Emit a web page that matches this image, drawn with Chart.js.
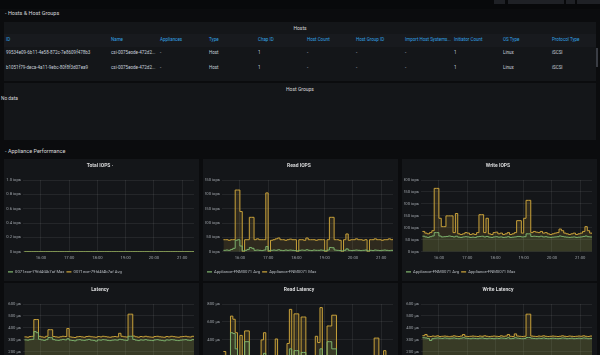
<!DOCTYPE html>
<html><head><meta charset="utf-8">
<script src="https://cdn.jsdelivr.net/npm/chart.js@4/dist/chart.umd.min.js"></script>
<style>
html,body{margin:0;padding:0;width:600px;height:355px;overflow:hidden;background:#0b0c0e;font-family:Roboto,"Open Sans",sans-serif;}
.abs{position:absolute;}
.panel{position:absolute;background:#141619;}
.rowtitle{position:absolute;left:5px;font-size:5.5px;color:#d8d9da;line-height:8px;}
.ptitle{position:absolute;left:0;right:0;text-align:center;font-size:5px;color:#d8d9da;line-height:8px;}
.th{position:absolute;font-size:4.5px;color:#33a2e5;line-height:6px;white-space:nowrap;}
.td{position:absolute;font-size:4.5px;color:#c7d0d9;line-height:6px;white-space:nowrap;}
.btn{position:absolute;top:0;height:4px;background:#1f2126;}
</style></head>
<body>
<div class="abs" style="left:0;top:0;width:600px;height:9px;background:#08090b"></div>
<div class="btn" style="left:494px;width:11px"></div>
<div class="btn" style="left:508px;width:56px"></div>
<div class="btn" style="left:566px;width:9px"></div>
<div class="btn" style="left:577px;width:23px"></div>

<div class="rowtitle" style="top:9px">- Hosts &amp; Host Groups</div>

<div class="panel" id="hostsPanel" style="left:4px;top:22px;width:592px;height:59px">
  <div class="ptitle" style="top:2px">Hosts</div>
  <div class="abs" style="left:0;top:12px;width:592px;height:13px;background:#181a1e"></div>
  <div class="abs" style="left:592px;top:26px;width:2px;height:19px;background:#3a3d44"></div>
</div>
<div class="panel" style="left:4px;top:83px;width:592px;height:57px">
  <div class="ptitle" style="top:2px">Host Groups</div>
</div>
<div class="td" style="left:1px;top:96px;font-size:4.8px;color:#d8d9da">No data</div>

<div class="rowtitle" style="top:147px">- Appliance Performance</div>

<div class="panel" style="left:4px;top:159px;width:195px;height:122px"><canvas id="c1" width="195" height="122"></canvas></div>
<div class="panel" style="left:203px;top:159px;width:195px;height:122px"><canvas id="c2" width="195" height="122"></canvas></div>
<div class="panel" style="left:402px;top:159px;width:195px;height:122px"><canvas id="c3" width="195" height="122"></canvas></div>
<div class="panel" style="left:4px;top:283px;width:195px;height:122px"><canvas id="c4" width="195" height="122"></canvas></div>
<div class="panel" style="left:203px;top:283px;width:195px;height:122px"><canvas id="c5" width="195" height="122"></canvas></div>
<div class="panel" style="left:402px;top:283px;width:195px;height:122px"><canvas id="c6" width="195" height="122"></canvas></div>

<script>
// ---------- Table data ----------
const hostColumns = ["ID","Name","Appliances","Type","Chap ID","Host Count","Host Group ID","Import Host Systems...","Initiator Count","OS Type","Protocol Type"];
const hostRow1 = ["99534e09-6b11-4e58-872c-7e8609f478b3","csi-0075eode-472d2...","-","Host","1","-","-","-","1","Linux","iSCSI"];
const hostRow2 = ["b1051f79-deca-4a11-9ebc-80f8f3d07ea9","csi-0075eode-472d2...","-","Host","1","-","-","-","1","Linux","iSCSI"];

// ---------- Time axis (minutes from midnight) ----------
const timeMinutes = [925,930,935,940,945,950,955,960,965,970,975,980,985,990,995,1000,1005,1010,1015,1020,1025,1030,1035,1040,1045,1050,1055,1060,1065,1070,1075,1080,1085,1090,1095,1100,1105,1110,1115,1120,1125,1130,1135,1140,1145,1150,1155,1160,1165,1170,1175,1180,1185,1190,1195,1200,1205,1210,1215,1220,1225,1230,1235,1240,1245,1250,1255,1260,1265,1270,1275,1280,1285];
const hourTickMinutes = [960,1020,1080,1140,1200,1260];
const hourTickLabels = ["16:00","17:00","18:00","19:00","20:00","21:00"];

// ---------- Series ----------
const totalIopsMax = [0,0,0,0,0,0,0,0,0,0,0,0,0,0,0,0,0,0,0,0,0,0,0,0,0,0,0,0,0,0,0,0,0,0,0,0,0,0,0,0,0,0,0,0,0,0,0,0,0,0,0,0,0,0,0,0,0,0,0,0,0,0,0,0,0,0,0,0,0,0,0,0,0];
const totalIopsAvg = [0,0,0,0,0,0,0,0,0,0,0,0,0,0,0,0,0,0,0,0,0,0,0,0,0,0,0,0,0,0,0,0,0,0,0,0,0,0,0,0,0,0,0,0,0,0,0,0,0,0,0,0,0,0,0,0,0,0,0,0,0,0,0,0,0,0,0,0,0,0,0,0,0];

const readIopsMax = [42,42,40,42,42,215,215,140,0,42,42,120,120,42,45,42,42,42,205,0,40,42,45,48,42,42,40,42,44,42,42,0,42,42,40,48,42,42,42,40,42,42,42,0,42,120,120,42,42,40,0,42,62,40,42,42,45,42,42,40,42,0,42,42,45,42,42,40,42,42,45,42,45];
const readIopsAvg = [5,6,5,8,12,40,42,20,3,5,8,15,12,5,6,5,4,6,18,4,5,6,5,7,5,4,6,5,6,5,4,3,5,6,5,7,5,4,6,5,5,6,5,3,6,15,14,6,5,4,3,5,10,5,4,5,6,5,4,5,6,3,5,4,6,5,4,5,6,5,4,5,6];

const writeIopsMax = [85,78,75,80,88,265,265,140,105,105,150,150,150,80,160,75,72,75,80,78,72,75,72,80,155,155,80,140,75,72,80,82,75,78,72,75,80,72,75,80,130,130,78,140,215,215,80,85,82,80,85,78,80,75,72,75,78,80,95,88,78,75,72,75,78,72,75,78,85,105,88,78,75];
const writeIopsAvg = [65,62,60,63,66,80,80,66,62,63,64,66,64,62,65,61,60,62,63,62,60,61,60,63,64,65,62,64,61,60,62,63,61,62,60,61,63,60,61,62,64,64,62,63,75,75,64,65,64,63,65,62,63,61,60,61,62,63,66,64,62,61,60,61,62,60,61,62,64,66,63,62,61];

const latencyMax = [325,322,328,330,470,470,330,325,322,330,385,385,328,325,322,326,330,328,395,325,322,320,326,328,325,322,328,330,326,324,322,328,325,330,327,324,322,326,328,325,355,330,326,324,515,515,332,326,322,328,325,330,326,324,322,328,330,326,324,322,328,325,330,327,324,322,326,328,330,326,324,330,328];
const latencyAvg = [300,298,302,305,370,360,305,300,296,302,320,318,302,298,296,300,304,300,310,298,295,292,300,302,298,296,300,304,298,296,290,300,298,302,300,296,294,298,300,298,305,302,298,296,330,330,304,298,294,300,298,302,298,296,294,300,302,298,296,292,300,298,302,300,296,294,298,300,302,298,296,302,300];

const readLatencyMax = [270,100,120,665,630,480,120,450,150,500,500,100,80,100,60,120,400,480,100,60,100,80,410,100,150,120,100,360,740,150,690,690,120,655,655,100,80,60,120,440,370,760,100,120,555,555,675,675,100,80,60,100,120,80,60,100,80,60,100,120,80,60,100,120,420,420,100,80,280,100,60,80,100];
const readLatencyAvg = [120,60,80,480,470,300,80,200,90,380,380,70,50,60,40,80,150,250,60,40,60,50,200,60,80,70,60,180,300,90,280,280,70,260,260,60,50,40,70,220,200,300,60,70,380,380,300,300,60,50,40,60,80,50,40,60,50,40,60,80,50,40,60,80,200,200,60,50,150,60,40,50,60];

const writeLatencyMax = [335,345,330,328,332,330,334,328,330,332,330,326,330,334,330,328,332,345,330,328,330,332,330,328,332,330,334,330,328,330,332,330,328,334,330,332,345,330,328,350,332,330,328,330,515,515,332,330,328,332,330,334,330,328,330,332,330,328,330,334,330,328,332,330,328,330,332,330,334,330,328,332,330];
const writeLatencyAvg = [318,316,312,295,310,314,316,314,312,316,314,310,314,316,312,310,314,318,314,312,310,314,312,310,314,316,312,310,314,312,310,314,312,316,314,312,318,310,312,318,314,312,310,312,320,320,314,312,310,314,312,316,312,310,312,314,312,310,312,316,314,310,312,314,310,312,314,312,316,314,310,312,314];

// ---------- Build tables ----------
const hostColX = [6,111,160,209,258,307,356,405,454,503,552];
function addText(cls, txt, x, y){
  const d=document.createElement('div'); d.className=cls; d.textContent=txt;
  d.style.left=x+'px'; d.style.top=y+'px'; document.body.appendChild(d);
}
hostColumns.forEach((c,i)=>addText('th',c,hostColX[i],37));
hostRow1.forEach((c,i)=>addText('td',c,hostColX[i],50));
hostRow2.forEach((c,i)=>addText('td',c,hostColX[i],65));

// ---------- Charts ----------
const GREEN='#7eb26d', YELLOW='#c9a23a';
const GREEN_FILL='rgba(126,178,109,0.12)', YELLOW_FILL='rgba(201,162,58,0.15)';
function fmtHour(v){const i=hourTickMinutes.indexOf(v);return i>=0?hourTickLabels[i]:'';}

const legendShift = {
  id:'legendShift',
  afterLayout(chart){ if(chart.legend){ chart.legend.top += 3; chart.legend.bottom += 3; } }
};

function makeChart(id,title,series,yMax,yStep,unit,decimals){
  new Chart(document.getElementById(id),{
    type:'line',
    plugins:[legendShift],
    data:{datasets:series.map(s=>({
      label:s.label,
      data:timeMinutes.map((t,i)=>({x:t,y:s.data[i]})),
      borderColor:s.color, backgroundColor:s.fill,
      borderWidth:1, pointRadius:0, pointStyle:'line', stepped:true, fill:'origin'
    }))},
    options:{
      animation:false, responsive:false, maintainAspectRatio:false, devicePixelRatio:1,
      layout:{padding:{left:2,right:5,top:0,bottom:0}},
      plugins:{
        title:{display:true,text:title,color:'#d8d9da',font:{size:5,family:'Roboto'},padding:{top:4,bottom:11}},
        legend:{position:'bottom',align:'start',
          labels:{color:'#b7bcc2',font:{size:4.2,family:'Roboto'},usePointStyle:true,pointStyle:'line',pointStyleWidth:5,boxWidth:5,boxHeight:1,padding:2,
            generateLabels:ch=>ch.data.datasets.map((d,i)=>({text:d.label,fillStyle:d.borderColor,strokeStyle:d.borderColor,lineWidth:1.2,pointStyle:'line',fontColor:'#b7bcc2',datasetIndex:i,hidden:false}))}},
        tooltip:{enabled:false}
      },
      scales:{
        x:{type:'linear',min:922,max:1285,
          afterBuildTicks:sc=>{sc.ticks=hourTickMinutes.map(v=>({value:v}));},
          ticks:{color:'#9ea3a9',font:{size:4.2,family:'Roboto'},padding:4,maxRotation:0,autoSkip:false,callback:v=>fmtHour(v)},
          grid:{color:'rgba(255,255,255,0.07)',drawTicks:false},border:{display:false}},
        y:{min:0,max:yMax,
          ticks:{stepSize:yStep,color:'#9ea3a9',font:{size:4.2,family:'Roboto'},padding:2,
            callback:v=>(v===0?'0 '+unit:(decimals?v.toFixed(decimals):v)+' '+unit)},
          afterFit:s=>{s.width=17;},
          grid:{color:'rgba(255,255,255,0.07)',drawTicks:false},border:{display:false}}
      }
    }
  });
}

makeChart('c1','Total IOPS ·',[
  {label:'0071ece-79fd4f4b7af Max',data:totalIopsMax,color:GREEN,fill:GREEN_FILL},
  {label:'0071ece-79fd4f4b7af Avg',data:totalIopsAvg,color:YELLOW,fill:YELLOW_FILL}],1,0.2,'iops',1);
makeChart('c2','Read IOPS',[
  {label:'Appliance-FNM0071 Avg',data:readIopsAvg,color:GREEN,fill:GREEN_FILL},
  {label:'Appliance-FNM0071 Max',data:readIopsMax,color:YELLOW,fill:YELLOW_FILL}],250,50,'iops',0);
makeChart('c3','Write IOPS',[
  {label:'Appliance-FNM0071 Avg',data:writeIopsAvg,color:GREEN,fill:GREEN_FILL},
  {label:'Appliance-FNM0071 Max',data:writeIopsMax,color:YELLOW,fill:YELLOW_FILL}],300,50,'iops',0);
makeChart('c4','Latency',[
  {label:'Appliance-FNM0071 Avg',data:latencyAvg,color:GREEN,fill:GREEN_FILL},
  {label:'Appliance-FNM0071 Max',data:latencyMax,color:YELLOW,fill:YELLOW_FILL}],600,100,'µs',0);
makeChart('c5','Read Latency',[
  {label:'Appliance-FNM0071 Avg',data:readLatencyAvg,color:GREEN,fill:GREEN_FILL},
  {label:'Appliance-FNM0071 Max',data:readLatencyMax,color:YELLOW,fill:YELLOW_FILL}],800,200,'µs',0);
makeChart('c6','Write Latency',[
  {label:'Appliance-FNM0071 Avg',data:writeLatencyAvg,color:GREEN,fill:GREEN_FILL},
  {label:'Appliance-FNM0071 Max',data:writeLatencyMax,color:YELLOW,fill:YELLOW_FILL}],600,100,'µs',0);
</script>
</body></html>
